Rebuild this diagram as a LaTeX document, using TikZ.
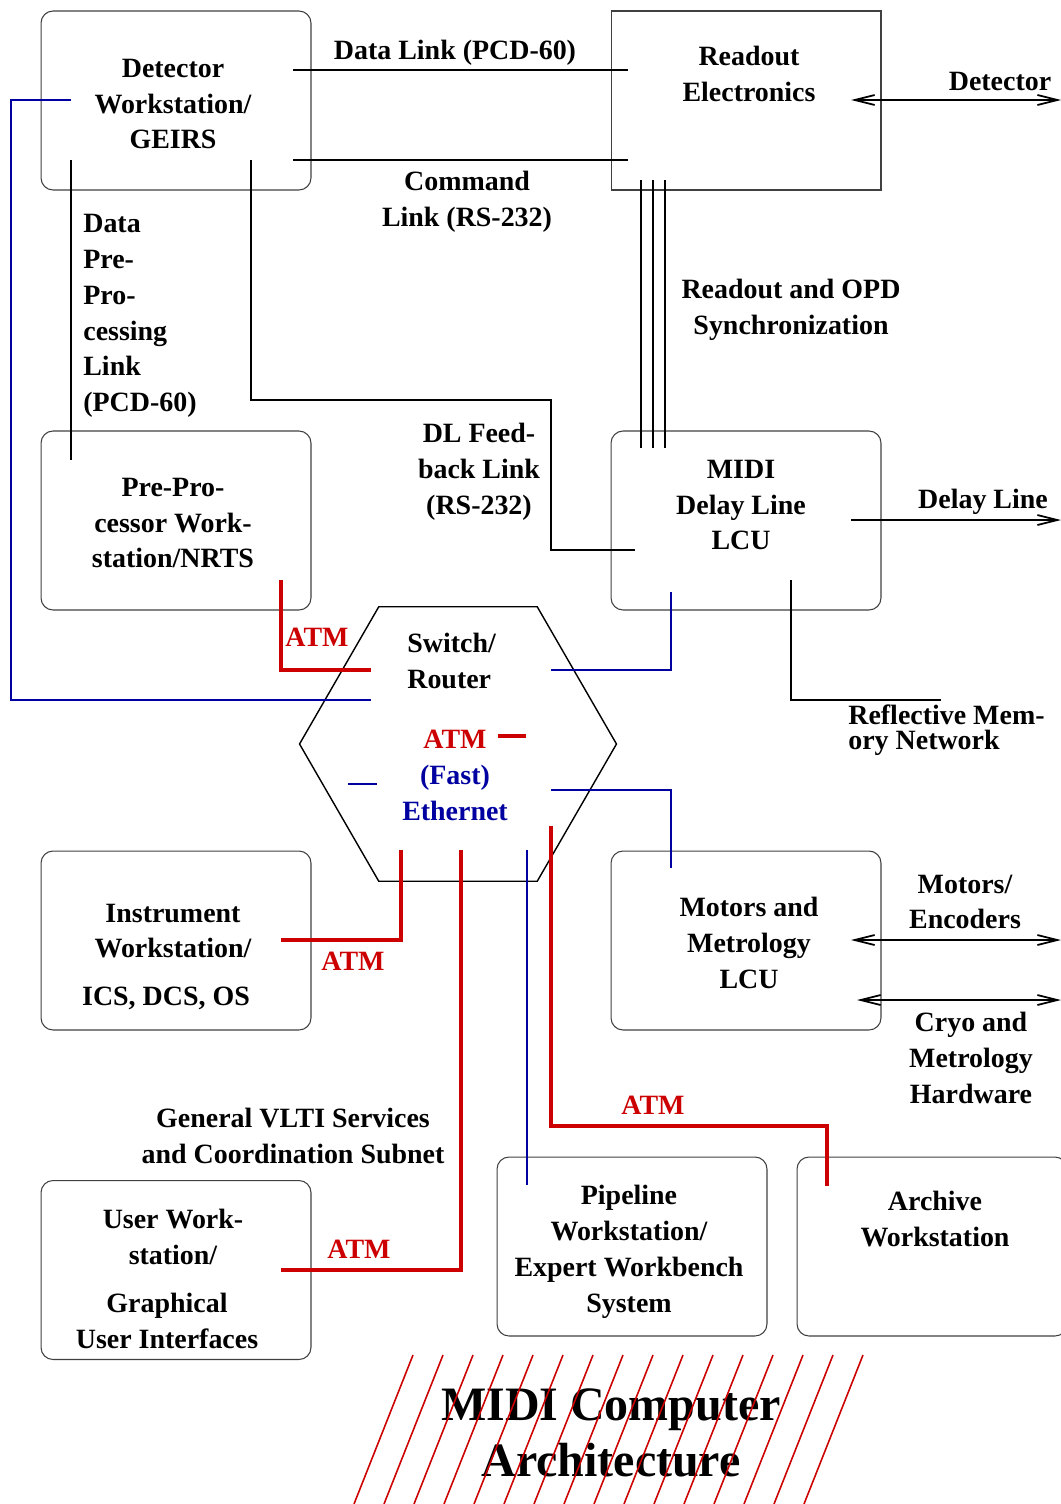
\documentclass[tikz,border=0pt]{standalone}
\usepackage{fontspec}
\setmainfont{Liberation Serif}
\usetikzlibrary{arrows.meta, positioning, shapes.geometric}
\definecolor{atmred}{RGB}{204,0,0}
\definecolor{ethblue}{RGB}{0,0,160}
\newcommand{\boxfont}{\fontsize{15.9}{20.4}\selectfont\bfseries}
\newcommand{\tightfont}{\fontsize{15.9}{14.2}\selectfont\bfseries}
\newcommand{\titlefont}{\fontsize{27.3}{31.8}\selectfont\bfseries}
\tikzset{
    midibox/.style={draw=black!75, line width=0.6pt, minimum width=5.4cm, minimum height=3.58cm, inner sep=0pt},
    midiround/.style={midibox, rounded corners=0.24cm},
    miditext/.style={font=\boxfont, align=center, inner sep=0pt},
    midiatmtext/.style={miditext, text=atmred},
    midilink/.style={line width=1pt},
    midiatm/.style={line width=2.2pt, draw=atmred},
    midieth/.style={line width=1pt, draw=ethblue},
    midiext/.style={line width=1pt, {Straight Barb[length=0.4cm,width=0.2cm]}-{Straight Barb[length=0.4cm,width=0.2cm]}},
    midiout/.style={line width=1pt, -{Straight Barb[length=0.4cm,width=0.2cm]}},
    midihatch/.style={line width=0.9pt, draw=atmred}
}

\begin{document}
\begin{tikzpicture}[x=0.02cm, y=-0.02cm]
    \useasboundingbox (0,0) rectangle (1061,1504);

    % Boxes
    \node[midiround] (detws) at (176,100.5) {};
    \node[midibox] (readout) at (746,100.5) {};
    \node[midiround] (prepro) at (176,520.5) {};
    \node[midiround] (dlcu) at (746,520.5) {};
    \node[midiround] (instws) at (176,940.5) {};
    \node[midiround] (mlcu) at (746,940.5) {};
    \node[midiround] (userws) at (176,1270) {};
    \node[midiround] (pipews) at (632,1246.5) {};
    \node[midiround] (archws) at (932,1246.5) {};
    \node[regular polygon, regular polygon sides=6, draw, line width=0.8pt, minimum size=6.34cm, inner sep=0pt] (hub) at (458,744) {};

    % Box texts
    \node[miditext] (detwst) at (173,104) {Detector\\Workstation/\\GEIRS};
    \node[miditext] (readoutt) at (749,74) {Readout\\Electronics};
    \node[miditext] (preprot) at (173,523) {Pre-Pro-\\cessor Work-\\station/NRTS};
    \node[miditext] (dlcut) at (741,505) {MIDI\\Delay Line\\LCU};
    \node[miditext] (instwst) at (173,931) {Instrument\\Workstation/};
    \node[miditext] (instwsu) at (166,998) {ICS, DCS, OS};
    \node[miditext] (mlcut) at (749,943) {Motors and\\Metrology\\LCU};
    \node[miditext] (userwst) at (173,1237) {User Work-\\station/};
    \node[miditext] (userwsu) at (167,1321) {Graphical\\User Interfaces};
    \node[miditext] (pipewst) at (629,1252) {Pipeline\\Workstation/\\Expert Workbench\\System};
    \node[miditext] (archwst) at (935,1219) {Archive\\Workstation};
    \node[miditext, anchor=west, align=left] (hubt) at (407,661) {Switch/\\Router};
    \node[midiatmtext] (hubatm) at (455,739) {ATM};
    \node[miditext, text=ethblue] (hubeth) at (455,793) {(Fast)\\Ethernet};

    % Link labels
    \node[miditext] (datalinkt) at (455,53) {Data Link (PCD-60)};
    \node[miditext] (cmdlinkt) at (467,202) {Command\\Link (RS-232)};
    \node[miditext] (detectort) at (1000,81) {Detector};
    \node[miditext] (synct) at (791,310) {Readout and OPD\\Synchronization};
    \node[miditext, anchor=west, align=left] (pplinkt) at (83,316) {Data\\Pre-\\Pro-\\cessing\\Link\\(PCD-60)};
    \node[miditext] (fblinkt) at (479,472) {DL Feed-\\back Link\\(RS-232)};
    \node[miditext] (delayt) at (983,502) {Delay Line};
    \node[miditext, font=\tightfont, anchor=west, align=left] (reflt) at (848,730) {Reflective Mem-\\ory Network};
    \node[miditext] (motorst) at (965,902) {Motors/\\Encoders};
    \node[miditext] (cryot) at (971,1058) {Cryo and\\Metrology\\Hardware};
    \node[miditext] (vltit) at (293,1136) {General VLTI Services\\and Coordination Subnet};
    \node[midiatmtext] (atmpp) at (317,637) {ATM};
    \node[midiatmtext] (atmiw) at (353,961) {ATM};
    \node[midiatmtext] (atmuw) at (359,1249) {ATM};
    \node[midiatmtext] (atmaw) at (653,1105) {ATM};

    % Pins
    \coordinate (dwData) at (293,70);
    \coordinate (reData) at (628,70);
    \coordinate (dwCmd) at (293,160);
    \coordinate (reCmd) at (628,160);
    \coordinate (reDet) at (851,100);
    \coordinate (detOut) at (1061,100);
    \coordinate (dwPre) at (71,160);
    \coordinate (ppPre) at (71,460);
    \coordinate (dwFb) at (251,160);
    \coordinate (fbBend) at (551,400);
    \coordinate (dlFb) at (635,550);
    \coordinate (dlDelay) at (851,520);
    \coordinate (delayOut) at (1061,520);
    \coordinate (dlRefl) at (791,580);
    \coordinate (reflOut) at (941,700);
    \coordinate (dwEth) at (71,100);
    \coordinate (ethLeft) at (11,700);
    \coordinate (hubEthW) at (371,700);
    \coordinate (ppAtm) at (281,580);
    \coordinate (hubAtmW) at (371,670);
    \coordinate (dlEth) at (671,592);
    \coordinate (hubEthNE) at (551,670);
    \coordinate (hubEthSE) at (551,790);
    \coordinate (mlEth) at (671,868);
    \coordinate (iwAtm) at (281,940);
    \coordinate (hubAtmS1) at (401,850);
    \coordinate (hubAtmS2) at (461,850);
    \coordinate (uwAtm) at (281,1270);
    \coordinate (hubEthS) at (527,850);
    \coordinate (pwEth) at (527,1185);
    \coordinate (hubAtmS3) at (551,826);
    \coordinate (archBend) at (827,1126);
    \coordinate (awAtm) at (827,1186);
    \coordinate (mlMot) at (851,940);
    \coordinate (motOut) at (1061,940);
    \coordinate (mlCryo) at (857,1000);
    \coordinate (cryoOut) at (1061,1000);
    \coordinate (atmKeyA) at (498,736);
    \coordinate (atmKeyB) at (526,736);
    \coordinate (ethKeyA) at (348,784);
    \coordinate (ethKeyB) at (377,784);

    % Serial and data links
    \draw[midilink] (dwData) -- (reData);
    \draw[midilink] (dwCmd) -- (reCmd);
    \draw[midilink] (dwPre) -- (ppPre);
    \draw[midilink] (dwFb) |- (fbBend) |- (dlFb);
    \draw[midilink] (dlRefl) |- (reflOut);
    \foreach \i/\x in {1/641,2/653,3/665} {
        \coordinate (sy\i a) at (\x,180);
        \coordinate (sy\i b) at (\x,448);
        \draw[midilink] (sy\i a) -- (sy\i b);
    }

    % Outside world
    \draw[midiext] (reDet) -- (detOut);
    \draw[midiout] (dlDelay) -- (delayOut);
    \draw[midiext] (mlMot) -- (motOut);
    \draw[midiext] (mlCryo) -- (cryoOut);

    % Ethernet
    \draw[midieth] (dwEth) -| (ethLeft) -- (hubEthW);
    \draw[midieth] (dlEth) |- (hubEthNE);
    \draw[midieth] (hubEthSE) -| (mlEth);
    \draw[midieth] (hubEthS) -- (pwEth);
    \draw[midieth] (ethKeyA) -- (ethKeyB);

    % ATM
    \draw[midiatm] (ppAtm) |- (hubAtmW);
    \draw[midiatm] (iwAtm) -| (hubAtmS1);
    \draw[midiatm] (hubAtmS2) |- (uwAtm);
    \draw[midiatm] (hubAtmS3) |- (archBend) -- (awAtm);
    \draw[midiatm] (atmKeyA) -- (atmKeyB);

    % Title
    \node[font=\titlefont, align=center, inner sep=0pt] (title) at (611,1433) {MIDI Computer\\Architecture};
    \foreach \i in {0,...,15}
        \draw[midihatch] ({354+30*\i},1504) -- ({413+30*\i},1355);
\end{tikzpicture}
\end{document}
